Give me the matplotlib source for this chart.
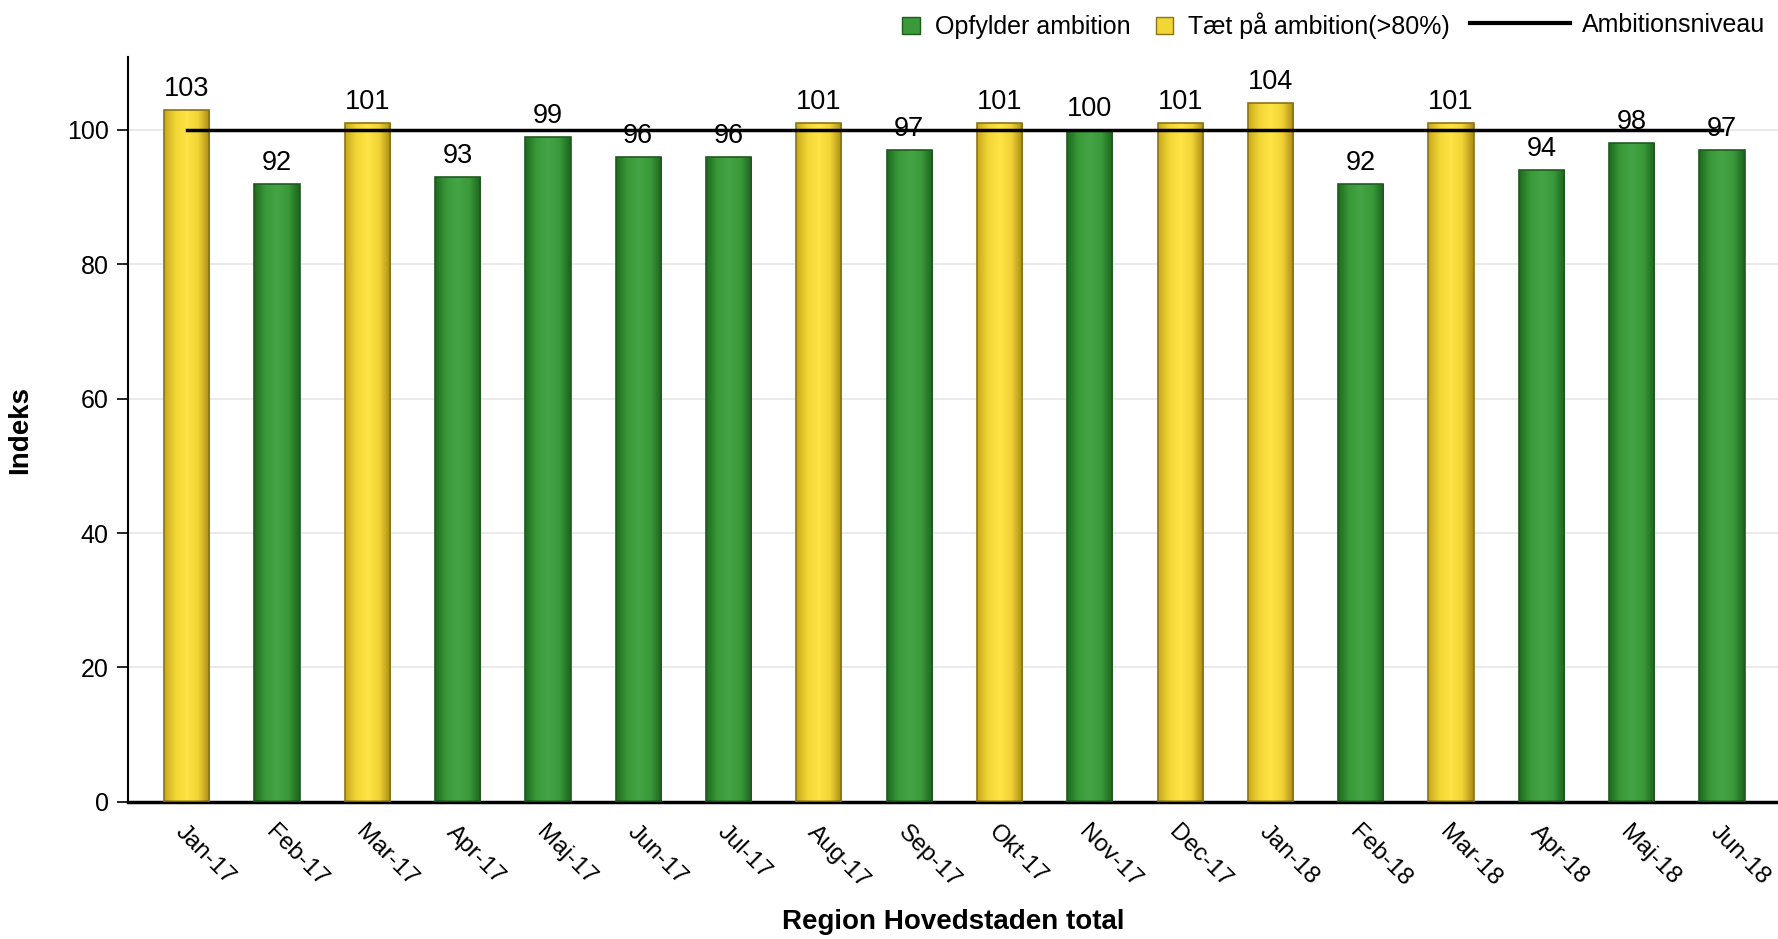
import numpy as np
import matplotlib
matplotlib.use("Agg")
import matplotlib.pyplot as plt
from matplotlib.colors import LinearSegmentedColormap
from matplotlib.patches import Patch
from matplotlib.lines import Line2D

# --- DATA ---
months = ["Jan-17", "Feb-17", "Mar-17", "Apr-17", "Maj-17", "Jun-17", "Jul-17",
          "Aug-17", "Sep-17", "Okt-17", "Nov-17", "Dec-17", "Jan-18", "Feb-18",
          "Mar-18", "Apr-18", "Maj-18", "Jun-18"]
values = [103, 92, 101, 93, 99, 96, 96, 101, 97, 101, 100, 101, 104, 92, 101, 94, 98, 97]
status = ["T", "O", "T", "O", "O", "O", "O", "T", "O", "T", "O", "T", "T", "O", "T", "O", "O", "O"]
ambition = 100

plt.rcParams['font.family'] = ['Liberation Sans', 'DejaVu Sans']

green_cmap = LinearSegmentedColormap.from_list(
    "g", ["#1d6a1d", "#3a9a3a", "#45a445", "#3a9a3a", "#1c631c"])
yellow_cmap = LinearSegmentedColormap.from_list(
    "y", ["#c8a81c", "#f2d636", "#ffe445", "#f0d235", "#a88a14"])
edge = {"O": "#1f5a1f", "T": "#8a7414"}
cmaps = {"O": green_cmap, "T": yellow_cmap}

fig = plt.figure(figsize=(17.78, 9.39), dpi=100)
ax = fig.add_axes([0.072, 0.146, 0.928, 0.793])

x = np.arange(len(months))
bars = ax.bar(x, values, width=0.5, color="none", zorder=2)
grad = np.linspace(0, 1, 256).reshape(1, -1)
for b, s in zip(bars, status):
    x0, w, h = b.get_x(), b.get_width(), b.get_height()
    im = ax.imshow(grad, cmap=cmaps[s], aspect="auto", extent=[x0, x0 + w, 0, h], zorder=2)
    im.set_clip_path(b)
    b.set_edgecolor(edge[s])
    b.set_linewidth(1.2)
    b.set_zorder(3)

ax.plot([x[0], x[-1]], [ambition, ambition], color="black", lw=2.5, zorder=5)

for xi, v in zip(x, values):
    ax.text(xi, v + 1.2, str(v), ha="center", va="bottom", fontsize=19.5, zorder=4)

ax.set_xlim(-0.65, len(months) - 1 + 0.62)
ax.set_ylim(0, 110.8)
ax.set_yticks([0, 20, 40, 60, 80, 100])
ax.yaxis.grid(True, color="#e6e6e6", lw=1.2, zorder=0)
ax.set_axisbelow(True)
ax.set_xticks(x)
ax.set_xticklabels(months, rotation=-45, ha="left", rotation_mode="anchor", fontsize=17.5)
ax.tick_params(axis="x", length=0, pad=14)
ax.tick_params(axis="y", labelsize=18, length=8, width=1.2, pad=6)
for sp in ["top", "right"]:
    ax.spines[sp].set_visible(False)
ax.spines["left"].set_linewidth(1.5)
ax.spines["bottom"].set_linewidth(2.5)
ax.set_ylabel("Indeks", fontsize=20, fontweight="bold", labelpad=24)
ax.set_xlabel("Region Hovedstaden total", fontsize=20, fontweight="bold", labelpad=12)

# legend: line entry on the far right, the two bar entries to its left
line_leg = fig.legend(handles=[Line2D([0], [0], color="black", lw=3, label="Ambitionsniveau")],
                      loc="upper right", bbox_to_anchor=(1.0, 1.0), frameon=False,
                      fontsize=18, handlelength=4.0, handletextpad=0.5, borderaxespad=0.1)
fig.canvas.draw()
bb = line_leg.get_window_extent().transformed(fig.transFigure.inverted())
patch_handles = [
    Patch(facecolor="#3a9a3a", edgecolor=edge["O"], label="Opfylder ambition"),
    Patch(facecolor="#f2d636", edgecolor=edge["T"], label="Tæt på ambition(>80%)"),
]
fig.legend(handles=patch_handles, loc="upper right", bbox_to_anchor=(bb.x0, bb.y1), ncol=2,
           frameon=False, fontsize=18, handlelength=0.7, handleheight=0.7,
           columnspacing=1.0, handletextpad=0.6, borderaxespad=0.0)

fig.savefig("out.png", dpi=100)
